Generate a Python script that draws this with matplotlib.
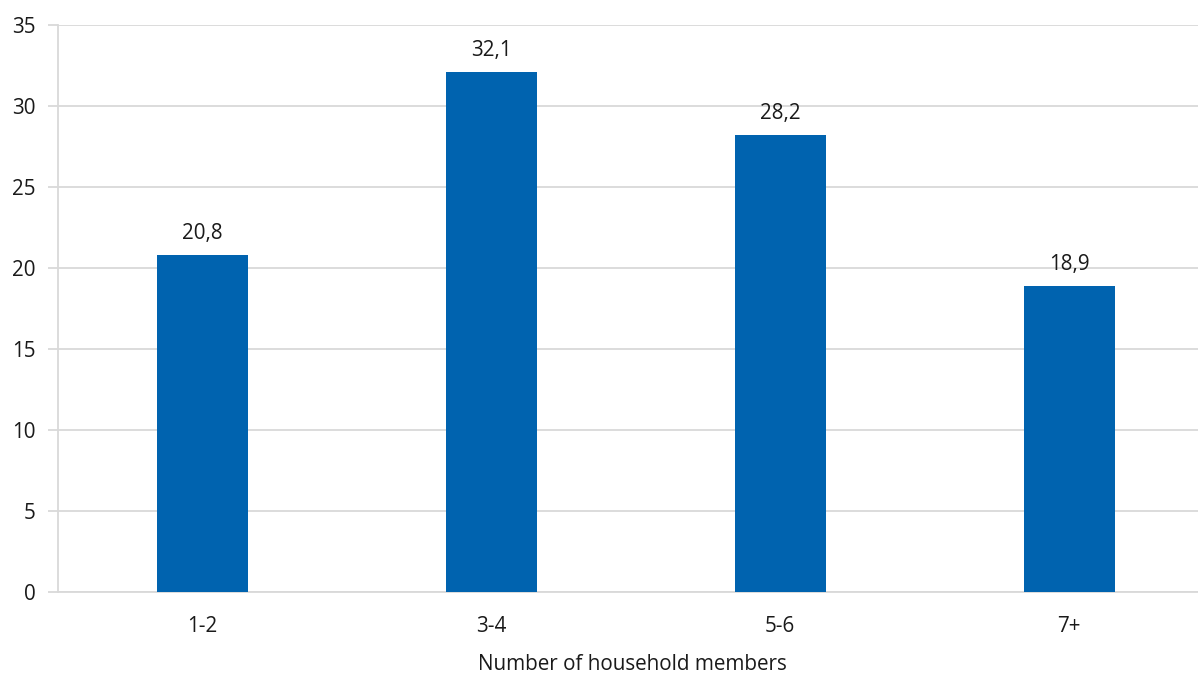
import matplotlib.pyplot as plt

categories = ['1-2', '3-4', '5-6', '7+']
values = [20.8, 32.1, 28.2, 18.9]
labels = ['20,8', '32,1', '28,2', '18,9']

plt.rcParams['font.family'] = ['Open Sans', 'DejaVu Sans']
FS = 14.9

fig = plt.figure(figsize=(11.98, 6.77), dpi=100)
ax = fig.add_axes([0.0484, 0.1256, 0.9516, 0.8374])

x = range(len(categories))
bars = ax.bar(x, values, width=0.315, color='#0063AF', zorder=3)
for b, lab in zip(bars, labels):
    ax.annotate(lab, (b.get_x() + b.get_width() / 2, b.get_height()),
                xytext=(0, 8), textcoords='offset points',
                ha='center', va='bottom', fontsize=FS, color='#1a1a1a')

ax.set_xlim(-0.5, 3.446)
ax.set_ylim(0, 35)
ax.set_yticks(range(0, 36, 5))
ax.set_xticks(list(x))
ax.set_xticklabels(categories)
ax.grid(axis='y', color='#d9d9d9', linewidth=1.3, zorder=0)
for s in ['top', 'right']:
    ax.spines[s].set_visible(False)
ax.spines['left'].set_color('#d9d9d9')
ax.spines['left'].set_linewidth(1.3)
ax.spines['bottom'].set_color('#d9d9d9')
ax.spines['bottom'].set_linewidth(1.3)
ax.tick_params(axis='y', length=7, width=1.3, color='#d9d9d9', labelsize=FS, pad=9, labelcolor='#1a1a1a')
ax.tick_params(axis='x', length=0, labelsize=FS, pad=17, labelcolor='#1a1a1a')
ax.set_xlabel('Number of household members', fontsize=FS, color='#1a1a1a', va='baseline')
ax.xaxis.set_label_coords(0.5035, -0.138)

fig.savefig('out.png', dpi=100)
